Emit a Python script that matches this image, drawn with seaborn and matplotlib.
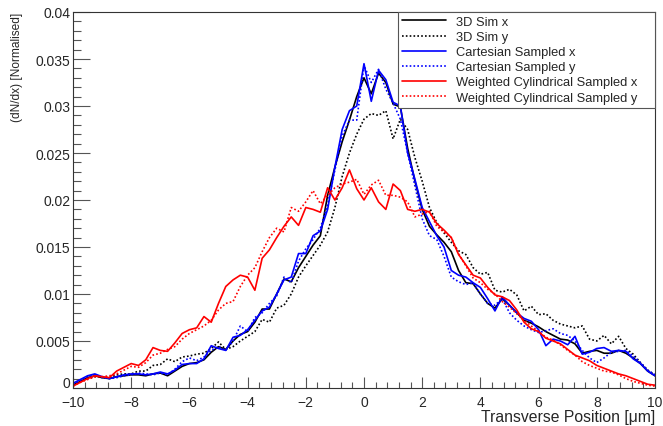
import numpy as np
import pandas as pd
import matplotlib
matplotlib.use("Agg")
import matplotlib.pyplot as plt
import matplotlib.transforms as mtransforms
from matplotlib.ticker import MultipleLocator, FuncFormatter
import seaborn as sns

# =========================
# Data
# =========================
x_pos = [round(-10 + 0.25 * i, 2) for i in range(81)]

sim_x = [0.0003, 0.0007, 0.0011, 0.0013, 0.0011, 0.0010, 0.0012, 0.0013, 0.0014, 0.0014,
         0.0013, 0.0015, 0.0016, 0.0013, 0.0018, 0.0023, 0.0026, 0.0027, 0.0030, 0.0038,
         0.0044, 0.0041, 0.0050, 0.0057, 0.0060, 0.0070, 0.0084, 0.0084, 0.0100, 0.0116,
         0.0113, 0.0128, 0.0140, 0.0152, 0.0162, 0.0205, 0.0235, 0.0262, 0.0285, 0.0310,
         0.0330, 0.0313, 0.0335, 0.0325, 0.0302, 0.0299, 0.0255, 0.0220, 0.0190, 0.0172,
         0.0163, 0.0155, 0.0145, 0.0125, 0.0112, 0.0111, 0.0100, 0.0090, 0.0085, 0.0095,
         0.0088, 0.0080, 0.0072, 0.0069, 0.0065, 0.0060, 0.0056, 0.0052, 0.0051, 0.0047,
         0.0037, 0.0039, 0.0040, 0.0037, 0.0037, 0.0040, 0.0037, 0.0032, 0.0026, 0.0018,
         0.0013]

sim_y = [0.0003, 0.0007, 0.0010, 0.0012, 0.0012, 0.0011, 0.0014, 0.0015, 0.0015, 0.0018,
         0.0018, 0.0024, 0.0025, 0.0031, 0.0028, 0.0033, 0.0034, 0.0036, 0.0037, 0.0042,
         0.0049, 0.0041, 0.0044, 0.0050, 0.0055, 0.0060, 0.0073, 0.0070, 0.0085, 0.0088,
         0.0100, 0.0118, 0.0130, 0.0141, 0.0152, 0.0166, 0.0192, 0.0225, 0.0250, 0.0270,
         0.0286, 0.0292, 0.0290, 0.0295, 0.0265, 0.0286, 0.0275, 0.0245, 0.0220, 0.0192,
         0.0176, 0.0165, 0.0155, 0.0146, 0.0142, 0.0128, 0.0121, 0.0123, 0.0104, 0.0102,
         0.0105, 0.0099, 0.0082, 0.0087, 0.0078, 0.0079, 0.0072, 0.0068, 0.0066, 0.0064,
         0.0066, 0.0052, 0.0050, 0.0056, 0.0047, 0.0055, 0.0042, 0.0036, 0.0027, 0.0019,
         0.0014]

cart_x = [0.0005, 0.0009, 0.0013, 0.0015, 0.0012, 0.0010, 0.0012, 0.0014, 0.0015, 0.0015,
          0.0014, 0.0015, 0.0017, 0.0015, 0.0019, 0.0025, 0.0026, 0.0026, 0.0031, 0.0045,
          0.0042, 0.0040, 0.0054, 0.0056, 0.0062, 0.0072, 0.0082, 0.0086, 0.0100, 0.0115,
          0.0118, 0.0143, 0.0143, 0.0162, 0.0167, 0.0190, 0.0235, 0.0275, 0.0295, 0.0300,
          0.0345, 0.0305, 0.0338, 0.0328, 0.0304, 0.0300, 0.0250, 0.0222, 0.0192, 0.0177,
          0.0162, 0.0150, 0.0125, 0.0120, 0.0118, 0.0112, 0.0107, 0.0095, 0.0082, 0.0097,
          0.0088, 0.0080, 0.0074, 0.0071, 0.0062, 0.0045, 0.0052, 0.0050, 0.0046, 0.0055,
          0.0036, 0.0038, 0.0042, 0.0043, 0.0039, 0.0040, 0.0039, 0.0031, 0.0026, 0.0018,
          0.0013]

cart_y = [0.0004, 0.0008, 0.0012, 0.0014, 0.0011, 0.0010, 0.0011, 0.0013, 0.0014, 0.0016,
          0.0015, 0.0014, 0.0016, 0.0014, 0.0020, 0.0028, 0.0032, 0.0029, 0.0033, 0.0040,
          0.0044, 0.0040, 0.0050, 0.0066, 0.0060, 0.0075, 0.0080, 0.0090, 0.0098, 0.0118,
          0.0112, 0.0135, 0.0148, 0.0158, 0.0170, 0.0195, 0.0232, 0.0268, 0.0285, 0.0285,
          0.0343, 0.0325, 0.0339, 0.0318, 0.0303, 0.0286, 0.0250, 0.0215, 0.0180, 0.0162,
          0.0158, 0.0140, 0.0118, 0.0113, 0.0110, 0.0112, 0.0100, 0.0090, 0.0088, 0.0095,
          0.0080, 0.0072, 0.0066, 0.0062, 0.0059, 0.0061, 0.0063, 0.0058, 0.0056, 0.0050,
          0.0040, 0.0032, 0.0027, 0.0032, 0.0038, 0.0039, 0.0040, 0.0034, 0.0027, 0.0019,
          0.0014]

cyl_x = [0.0002, 0.0006, 0.0010, 0.0013, 0.0012, 0.0011, 0.0018, 0.0022, 0.0026, 0.0024,
         0.0030, 0.0043, 0.0040, 0.0039, 0.0048, 0.0058, 0.0062, 0.0064, 0.0076, 0.0070,
         0.0090, 0.0108, 0.0115, 0.0120, 0.0118, 0.0104, 0.0138, 0.0147, 0.0160, 0.0172,
         0.0182, 0.0173, 0.0192, 0.0190, 0.0187, 0.0213, 0.0200, 0.0213, 0.0232, 0.0212,
         0.0200, 0.0213, 0.0198, 0.0190, 0.0217, 0.0210, 0.0190, 0.0188, 0.0190, 0.0187,
         0.0175, 0.0168, 0.0160, 0.0142, 0.0131, 0.0120, 0.0117, 0.0107, 0.0099, 0.0097,
         0.0093, 0.0083, 0.0070, 0.0063, 0.0060, 0.0053, 0.0050, 0.0047, 0.0041, 0.0035,
         0.0032, 0.0029, 0.0024, 0.0021, 0.0018, 0.0015, 0.0013, 0.0010, 0.0007, 0.0004,
         0.0003]

cyl_y = [0.0002, 0.0006, 0.0009, 0.0012, 0.0012, 0.0013, 0.0015, 0.0019, 0.0023, 0.0022,
         0.0027, 0.0035, 0.0037, 0.0041, 0.0044, 0.0052, 0.0058, 0.0062, 0.0066, 0.0072,
         0.0083, 0.0090, 0.0092, 0.0108, 0.0120, 0.0128, 0.0145, 0.0160, 0.0170, 0.0166,
         0.0192, 0.0188, 0.0198, 0.0210, 0.0196, 0.0205, 0.0213, 0.0217, 0.0219, 0.0222,
         0.0206, 0.0216, 0.0221, 0.0205, 0.0205, 0.0203, 0.0198, 0.0182, 0.0185, 0.0188,
         0.0172, 0.0166, 0.0160, 0.0143, 0.0130, 0.0117, 0.0112, 0.0105, 0.0100, 0.0092,
         0.0086, 0.0079, 0.0072, 0.0066, 0.0060, 0.0054, 0.0051, 0.0046, 0.0040, 0.0035,
         0.0028, 0.0024, 0.0021, 0.0018, 0.0017, 0.0014, 0.0010, 0.0007, 0.0005, 0.0003,
         0.0002]

labels = ["3D Sim x", "3D Sim y", "Cartesian Sampled x", "Cartesian Sampled y",
          "Weighted Cylindrical Sampled x", "Weighted Cylindrical Sampled y"]
colors = ["black", "black", "#0000ff", "#0000ff", "#ff0000", "#ff0000"]
dotted = [False, True, False, True, False, True]

# =========================
# Style
# =========================
sns.set_style("ticks")
plt.rcParams["font.family"] = ["Liberation Sans", "DejaVu Sans"]
plt.rcParams["axes.unicode_minus"] = True

fig = plt.figure(figsize=(6.63, 4.27), dpi=100)
ax = fig.add_axes([73 / 663, 1 - 389 / 427, 582 / 663, 376 / 427])

series = [sim_x, sim_y, cart_x, cart_y, cyl_x, cyl_y]
for vals, lab, col, dot in zip(series, labels, colors, dotted):
    ls = (0, (1, 1.3)) if dot else "-"
    sns.lineplot(x=x_pos, y=vals, ax=ax, color=col, linestyle=ls,
                 linewidth=1.2, label=lab, legend=False)

ax.set_xlim(-10, 10)
ax.set_ylim(0, 0.04)

ax.xaxis.set_major_locator(MultipleLocator(2))
ax.xaxis.set_minor_locator(MultipleLocator(0.4))
ax.yaxis.set_major_locator(MultipleLocator(0.005))
ax.yaxis.set_minor_locator(MultipleLocator(0.001))
ax.yaxis.set_major_formatter(FuncFormatter(lambda v, p: "%g" % round(v, 4)))

ax.tick_params(axis="x", which="major", direction="in", length=8, width=0.8,
               labelsize=10, pad=5, color="#555555")
ax.tick_params(axis="x", which="minor", direction="in", length=4, width=0.8,
               color="#555555")
ax.tick_params(axis="y", which="major", direction="in", length=12, width=0.8,
               labelsize=10, pad=2, color="#555555")
ax.tick_params(axis="y", which="minor", direction="in", length=6, width=0.8,
               color="#555555")
for sp in ax.spines.values():
    sp.set_linewidth(0.8)
    sp.set_color("#333333")

# lift the "0" y label a little, as in the reference
fig.canvas.draw()
for t in ax.get_yticklabels():
    if t.get_text() == "0":
        t.set_transform(t.get_transform() + mtransforms.ScaledTranslation(0, 6 / 100, fig.dpi_scale_trans))

ax.set_xlabel("Transverse Position [μm]", fontsize=11.3, loc="right", labelpad=0)
ax.set_ylabel("(dN/dx) [Normalised]", fontsize=8.6, loc="top", labelpad=9)

leg = ax.legend(loc="upper right", bbox_to_anchor=(325 / 582, 282 / 376, 257 / 582, 94 / 376),
                mode="expand", borderaxespad=0, fontsize=9.3, frameon=True, fancybox=False,
                framealpha=1, edgecolor="#555555", handlelength=3.4, handletextpad=0.8,
                labelspacing=0.24, borderpad=0.3)
leg.get_frame().set_linewidth(0.8)

fig.savefig("out.png", dpi=100)
